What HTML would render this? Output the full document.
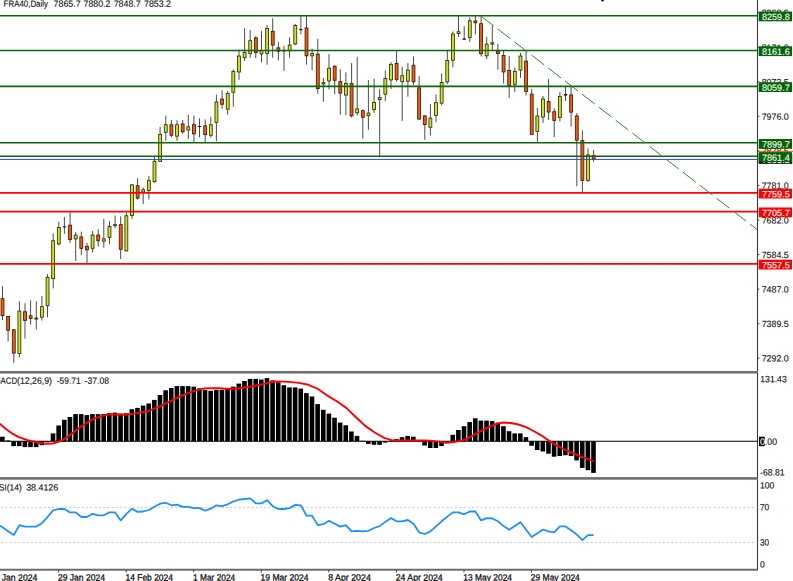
<!DOCTYPE html>
<html><head><meta charset="utf-8"><title>FRA40 Daily</title>
<style>html,body{margin:0;padding:0;background:#fff}svg{display:block}text{font-family:"Liberation Sans",sans-serif;font-size:9.1px;fill:#111;stroke:#111;stroke-width:0.13px}.w{fill:#fff;stroke:#fff;stroke-width:0.12px}.d{stroke-width:0.27px}</style></head><body>
<svg width="793" height="581" viewBox="0 0 793 581">
<rect width="793" height="581" fill="#fff"/>
<path d="M758 12.70h1.4" stroke="#333" stroke-width="0.9"/>
<text transform="matrix(1 0.001 0 1 0 0)" x="761.70" y="15.338" textLength="27" lengthAdjust="spacingAndGlyphs">8268.5</text>
<path d="M758 47.25h1.4" stroke="#333" stroke-width="0.9"/>
<text transform="matrix(1 0.001 0 1 0 0)" x="761.70" y="49.888" textLength="27" lengthAdjust="spacingAndGlyphs">8171.0</text>
<path d="M758 81.80h1.4" stroke="#333" stroke-width="0.9"/>
<text transform="matrix(1 0.001 0 1 0 0)" x="761.70" y="84.438" textLength="27" lengthAdjust="spacingAndGlyphs">8073.5</text>
<path d="M758 116.35h1.4" stroke="#333" stroke-width="0.9"/>
<text transform="matrix(1 0.001 0 1 0 0)" x="761.70" y="118.988" textLength="27" lengthAdjust="spacingAndGlyphs">7976.0</text>
<path d="M758 150.90h1.4" stroke="#333" stroke-width="0.9"/>
<text transform="matrix(1 0.001 0 1 0 0)" x="761.70" y="153.538" textLength="27" lengthAdjust="spacingAndGlyphs">7878.5</text>
<path d="M758 185.45h1.4" stroke="#333" stroke-width="0.9"/>
<text transform="matrix(1 0.001 0 1 0 0)" x="761.70" y="188.088" textLength="27" lengthAdjust="spacingAndGlyphs">7781.0</text>
<path d="M758 220.00h1.4" stroke="#333" stroke-width="0.9"/>
<text transform="matrix(1 0.001 0 1 0 0)" x="761.70" y="222.638" textLength="27" lengthAdjust="spacingAndGlyphs">7682.0</text>
<path d="M758 254.55h1.4" stroke="#333" stroke-width="0.9"/>
<text transform="matrix(1 0.001 0 1 0 0)" x="761.70" y="257.188" textLength="27" lengthAdjust="spacingAndGlyphs">7584.5</text>
<path d="M758 289.10h1.4" stroke="#333" stroke-width="0.9"/>
<text transform="matrix(1 0.001 0 1 0 0)" x="761.70" y="291.738" textLength="27" lengthAdjust="spacingAndGlyphs">7487.0</text>
<path d="M758 323.65h1.4" stroke="#333" stroke-width="0.9"/>
<text transform="matrix(1 0.001 0 1 0 0)" x="761.70" y="326.288" textLength="27" lengthAdjust="spacingAndGlyphs">7389.5</text>
<path d="M758 358.20h1.4" stroke="#333" stroke-width="0.9"/>
<text transform="matrix(1 0.001 0 1 0 0)" x="761.70" y="360.838" textLength="27" lengthAdjust="spacingAndGlyphs">7292.0</text>
<g stroke="#2a2a2a" stroke-width="0.85">
<path d="M2.5 286.1V320.2"/>
<path d="M8.1 315.9V341.4"/>
<path d="M13.8 329.1V362.7"/>
<path d="M19.4 301.3V357.5"/>
<path d="M25.0 303.2V338.6"/>
<path d="M30.6 300.3V324.4"/>
<path d="M36.3 301.3V329.7"/>
<path d="M41.9 296.0V320.6"/>
<path d="M47.5 274.2V317.4"/>
<path d="M53.2 233.4V288.4"/>
<path d="M58.8 221.7V245.4"/>
<path d="M64.4 217.0V233.8"/>
<path d="M70.1 212.6V242.9"/>
<path d="M75.7 232.1V260.9"/>
<path d="M81.3 231.6V255.2"/>
<path d="M87.0 242.9V263.7"/>
<path d="M92.6 231.0V252.4"/>
<path d="M98.2 229.1V246.7"/>
<path d="M103.8 218.9V247.7"/>
<path d="M109.5 221.1V244.2"/>
<path d="M115.1 215.5V228.3"/>
<path d="M120.7 216.4V259.0"/>
<path d="M126.4 212.6V251.4"/>
<path d="M132.0 184.2V218.9"/>
<path d="M137.6 178.1V199.7"/>
<path d="M143.2 187.4V204.1"/>
<path d="M148.9 176.1V199.4"/>
<path d="M154.5 156.3V182.8"/>
<path d="M160.1 126.9V162.0"/>
<path d="M165.8 115.6V140.8"/>
<path d="M171.4 119.9V137.3"/>
<path d="M177.0 120.3V140.8"/>
<path d="M182.7 119.9V133.6"/>
<path d="M188.3 114.6V138.9"/>
<path d="M193.9 115.6V142.1"/>
<path d="M199.5 118.4V137.3"/>
<path d="M205.2 119.4V142.1"/>
<path d="M210.8 116.9V137.7"/>
<path d="M216.4 94.7V141.1"/>
<path d="M222.1 90.2V108.8"/>
<path d="M227.7 91.3V114.6"/>
<path d="M233.3 69.4V106.7"/>
<path d="M239.0 49.5V79.8"/>
<path d="M244.6 28.1V60.9"/>
<path d="M250.2 30.0V57.7"/>
<path d="M255.8 36.2V58.0"/>
<path d="M261.5 31.1V62.4"/>
<path d="M267.1 24.9V64.7"/>
<path d="M272.7 18.3V57.7"/>
<path d="M278.4 41.9V60.3"/>
<path d="M284.0 45.7V70.9"/>
<path d="M289.6 37.2V57.7"/>
<path d="M295.3 23.9V45.2"/>
<path d="M300.9 16.0V34.4"/>
<path d="M306.5 16.0V64.7"/>
<path d="M312.1 48.6V70.3"/>
<path d="M317.8 38.7V93.6"/>
<path d="M323.4 78.0V102.0"/>
<path d="M329.0 54.2V89.4"/>
<path d="M334.7 65.2V94.2"/>
<path d="M340.3 69.1V114.7"/>
<path d="M345.9 72.3V115.2"/>
<path d="M351.6 63.1V117.5"/>
<path d="M357.2 57.0V115.2"/>
<path d="M362.8 109.5V138.7"/>
<path d="M368.4 80.2V129.8"/>
<path d="M374.1 78.7V112.8"/>
<path d="M379.7 89.1V156.3"/>
<path d="M385.3 70.5V101.0"/>
<path d="M391.0 62.2V89.1"/>
<path d="M396.6 50.5V81.5"/>
<path d="M402.2 66.7V120.9"/>
<path d="M407.9 63.1V96.7"/>
<path d="M413.5 56.5V84.9"/>
<path d="M419.1 76.2V119.4"/>
<path d="M424.8 115.2V139.8"/>
<path d="M430.4 104.2V135.5"/>
<path d="M436.0 94.4V122.2"/>
<path d="M441.6 73.3V105.2"/>
<path d="M447.3 50.5V84.0"/>
<path d="M452.9 31.5V67.4"/>
<path d="M458.5 16.0V36.8"/>
<path d="M464.2 26.2V40.0"/>
<path d="M469.8 17.3V41.9"/>
<path d="M475.4 16.0V34.4"/>
<path d="M481.1 16.0V56.5"/>
<path d="M486.7 36.8V59.0"/>
<path d="M492.3 25.5V50.1"/>
<path d="M497.9 43.8V69.8"/>
<path d="M503.6 50.5V83.6"/>
<path d="M509.2 56.1V97.8"/>
<path d="M514.8 67.5V92.1"/>
<path d="M520.5 52.9V77.9"/>
<path d="M526.1 50.1V95.5"/>
<path d="M531.7 89.2V135.2"/>
<path d="M537.4 108.1V141.8"/>
<path d="M543.0 96.0V122.9"/>
<path d="M548.6 79.2V120.0"/>
<path d="M554.2 108.2V137.1"/>
<path d="M559.9 92.1V121.4"/>
<path d="M565.5 86.8V100.9"/>
<path d="M571.1 85.5V126.7"/>
<path d="M576.8 113.2V186.3"/>
<path d="M582.4 130.4V192.4"/>
<path d="M588.0 148.4V182.0"/>
<path d="M593.6 150.0V161.7"/>
</g>
<rect x="1.05" y="298.65" width="2.9" height="17.00" fill="#f85a0c" stroke="#3c1a05" stroke-width="0.85"/>
<rect x="6.68" y="316.55" width="2.9" height="13.70" fill="#f85a0c" stroke="#3c1a05" stroke-width="0.85"/>
<rect x="12.31" y="329.75" width="2.9" height="23.40" fill="#f85a0c" stroke="#3c1a05" stroke-width="0.85"/>
<rect x="17.94" y="311.05" width="2.9" height="42.50" fill="#d0e11e" stroke="#2c3006" stroke-width="0.85"/>
<rect x="23.57" y="311.75" width="2.9" height="8.60" fill="#f85a0c" stroke="#3c1a05" stroke-width="0.85"/>
<rect x="29.20" y="315.75" width="2.9" height="2.70" fill="#f85a0c" stroke="#3c1a05" stroke-width="0.85"/>
<rect x="34.83" y="318.05" width="2.9" height="1.00" fill="#f85a0c" stroke="#3c1a05" stroke-width="0.85"/>
<rect x="40.46" y="306.65" width="2.9" height="10.50" fill="#d0e11e" stroke="#2c3006" stroke-width="0.85"/>
<rect x="46.09" y="277.25" width="2.9" height="28.50" fill="#d0e11e" stroke="#2c3006" stroke-width="0.85"/>
<rect x="51.72" y="240.75" width="2.9" height="37.90" fill="#d0e11e" stroke="#2c3006" stroke-width="0.85"/>
<rect x="57.35" y="227.45" width="2.9" height="16.50" fill="#d0e11e" stroke="#2c3006" stroke-width="0.85"/>
<rect x="62.7" y="226.4" width="3.4" height="1.0" fill="#111"/>
<rect x="68.61" y="225.15" width="2.9" height="14.30" fill="#f85a0c" stroke="#3c1a05" stroke-width="0.85"/>
<rect x="74.24" y="235.05" width="2.9" height="3.80" fill="#d0e11e" stroke="#2c3006" stroke-width="0.85"/>
<rect x="79.87" y="236.95" width="2.9" height="11.40" fill="#f85a0c" stroke="#3c1a05" stroke-width="0.85"/>
<rect x="85.50" y="246.35" width="2.9" height="3.50" fill="#f85a0c" stroke="#3c1a05" stroke-width="0.85"/>
<rect x="91.13" y="235.05" width="2.9" height="13.30" fill="#d0e11e" stroke="#2c3006" stroke-width="0.85"/>
<rect x="96.76" y="235.05" width="2.9" height="5.70" fill="#f85a0c" stroke="#3c1a05" stroke-width="0.85"/>
<rect x="102.39" y="238.85" width="2.9" height="2.30" fill="#d0e11e" stroke="#2c3006" stroke-width="0.85"/>
<rect x="108.02" y="226.45" width="2.9" height="10.90" fill="#d0e11e" stroke="#2c3006" stroke-width="0.85"/>
<rect x="113.65" y="224.65" width="2.9" height="1.00" fill="#d0e11e" stroke="#2c3006" stroke-width="0.85"/>
<rect x="119.28" y="224.65" width="2.9" height="24.60" fill="#f85a0c" stroke="#3c1a05" stroke-width="0.85"/>
<rect x="124.91" y="215.75" width="2.9" height="35.10" fill="#d0e11e" stroke="#2c3006" stroke-width="0.85"/>
<rect x="130.54" y="184.85" width="2.9" height="30.70" fill="#d0e11e" stroke="#2c3006" stroke-width="0.85"/>
<rect x="136.17" y="185.75" width="2.9" height="12.40" fill="#f85a0c" stroke="#3c1a05" stroke-width="0.85"/>
<rect x="141.80" y="189.75" width="2.9" height="2.30" fill="#d0e11e" stroke="#2c3006" stroke-width="0.85"/>
<rect x="147.43" y="180.65" width="2.9" height="9.80" fill="#d0e11e" stroke="#2c3006" stroke-width="0.85"/>
<rect x="153.06" y="161.25" width="2.9" height="20.40" fill="#d0e11e" stroke="#2c3006" stroke-width="0.85"/>
<rect x="158.69" y="134.35" width="2.9" height="27.00" fill="#d0e11e" stroke="#2c3006" stroke-width="0.85"/>
<rect x="164.32" y="124.75" width="2.9" height="7.60" fill="#d0e11e" stroke="#2c3006" stroke-width="0.85"/>
<rect x="169.95" y="124.75" width="2.9" height="10.50" fill="#f85a0c" stroke="#3c1a05" stroke-width="0.85"/>
<rect x="175.58" y="124.75" width="2.9" height="11.40" fill="#d0e11e" stroke="#2c3006" stroke-width="0.85"/>
<rect x="181.21" y="123.95" width="2.9" height="7.80" fill="#f85a0c" stroke="#3c1a05" stroke-width="0.85"/>
<rect x="186.84" y="126.85" width="2.9" height="3.20" fill="#d0e11e" stroke="#2c3006" stroke-width="0.85"/>
<rect x="192.47" y="124.75" width="2.9" height="9.10" fill="#f85a0c" stroke="#3c1a05" stroke-width="0.85"/>
<rect x="197.8" y="126.0" width="3.4" height="1.0" fill="#111"/>
<rect x="203.73" y="125.85" width="2.9" height="8.80" fill="#f85a0c" stroke="#3c1a05" stroke-width="0.85"/>
<rect x="209.36" y="124.75" width="2.9" height="10.50" fill="#d0e11e" stroke="#2c3006" stroke-width="0.85"/>
<rect x="214.99" y="101.95" width="2.9" height="20.40" fill="#d0e11e" stroke="#2c3006" stroke-width="0.85"/>
<rect x="220.62" y="99.05" width="2.9" height="5.20" fill="#f85a0c" stroke="#3c1a05" stroke-width="0.85"/>
<rect x="226.25" y="93.55" width="2.9" height="15.60" fill="#d0e11e" stroke="#2c3006" stroke-width="0.85"/>
<rect x="231.88" y="71.55" width="2.9" height="20.70" fill="#d0e11e" stroke="#2c3006" stroke-width="0.85"/>
<rect x="237.51" y="56.05" width="2.9" height="15.90" fill="#d0e11e" stroke="#2c3006" stroke-width="0.85"/>
<rect x="243.14" y="52.55" width="2.9" height="5.20" fill="#d0e11e" stroke="#2c3006" stroke-width="0.85"/>
<rect x="248.77" y="40.65" width="2.9" height="12.80" fill="#d0e11e" stroke="#2c3006" stroke-width="0.85"/>
<rect x="254.40" y="37.85" width="2.9" height="14.80" fill="#f85a0c" stroke="#3c1a05" stroke-width="0.85"/>
<rect x="260.03" y="50.75" width="2.9" height="3.20" fill="#d0e11e" stroke="#2c3006" stroke-width="0.85"/>
<rect x="265.66" y="28.55" width="2.9" height="24.90" fill="#d0e11e" stroke="#2c3006" stroke-width="0.85"/>
<rect x="271.29" y="31.35" width="2.9" height="13.70" fill="#f85a0c" stroke="#3c1a05" stroke-width="0.85"/>
<rect x="276.92" y="47.85" width="2.9" height="3.30" fill="#f85a0c" stroke="#3c1a05" stroke-width="0.85"/>
<rect x="282.3" y="50.5" width="3.4" height="1.0" fill="#111"/>
<rect x="288.18" y="45.05" width="2.9" height="5.70" fill="#d0e11e" stroke="#2c3006" stroke-width="0.85"/>
<rect x="293.81" y="25.55" width="2.9" height="18.40" fill="#d0e11e" stroke="#2c3006" stroke-width="0.85"/>
<rect x="299.2" y="29.1" width="3.4" height="1.0" fill="#111"/>
<rect x="305.07" y="27.95" width="2.9" height="27.90" fill="#f85a0c" stroke="#3c1a05" stroke-width="0.85"/>
<rect x="310.70" y="53.55" width="2.9" height="2.30" fill="#d0e11e" stroke="#2c3006" stroke-width="0.85"/>
<rect x="316.33" y="54.15" width="2.9" height="34.50" fill="#f85a0c" stroke="#3c1a05" stroke-width="0.85"/>
<rect x="321.96" y="82.65" width="2.9" height="1.30" fill="#d0e11e" stroke="#2c3006" stroke-width="0.85"/>
<rect x="327.59" y="68.15" width="2.9" height="12.80" fill="#d0e11e" stroke="#2c3006" stroke-width="0.85"/>
<rect x="333.22" y="66.25" width="2.9" height="14.00" fill="#f85a0c" stroke="#3c1a05" stroke-width="0.85"/>
<rect x="338.85" y="81.65" width="2.9" height="11.40" fill="#f85a0c" stroke="#3c1a05" stroke-width="0.85"/>
<rect x="344.48" y="83.55" width="2.9" height="11.50" fill="#d0e11e" stroke="#2c3006" stroke-width="0.85"/>
<rect x="350.11" y="83.55" width="2.9" height="32.20" fill="#f85a0c" stroke="#3c1a05" stroke-width="0.85"/>
<rect x="355.74" y="108.85" width="2.9" height="3.90" fill="#d0e11e" stroke="#2c3006" stroke-width="0.85"/>
<rect x="361.37" y="110.65" width="2.9" height="6.60" fill="#f85a0c" stroke="#3c1a05" stroke-width="0.85"/>
<rect x="367.00" y="113.05" width="2.9" height="2.70" fill="#d0e11e" stroke="#2c3006" stroke-width="0.85"/>
<rect x="372.63" y="102.55" width="2.9" height="7.10" fill="#d0e11e" stroke="#2c3006" stroke-width="0.85"/>
<rect x="378.26" y="97.45" width="2.9" height="2.20" fill="#d0e11e" stroke="#2c3006" stroke-width="0.85"/>
<rect x="383.89" y="78.55" width="2.9" height="15.60" fill="#d0e11e" stroke="#2c3006" stroke-width="0.85"/>
<rect x="389.52" y="64.35" width="2.9" height="15.60" fill="#d0e11e" stroke="#2c3006" stroke-width="0.85"/>
<rect x="395.15" y="63.35" width="2.9" height="16.00" fill="#f85a0c" stroke="#3c1a05" stroke-width="0.85"/>
<rect x="400.78" y="75.75" width="2.9" height="5.90" fill="#d0e11e" stroke="#2c3006" stroke-width="0.85"/>
<rect x="406.41" y="70.05" width="2.9" height="11.20" fill="#d0e11e" stroke="#2c3006" stroke-width="0.85"/>
<rect x="412.04" y="65.25" width="2.9" height="16.60" fill="#f85a0c" stroke="#3c1a05" stroke-width="0.85"/>
<rect x="417.67" y="87.85" width="2.9" height="31.30" fill="#f85a0c" stroke="#3c1a05" stroke-width="0.85"/>
<rect x="423.30" y="115.85" width="2.9" height="8.60" fill="#f85a0c" stroke="#3c1a05" stroke-width="0.85"/>
<rect x="428.93" y="118.15" width="2.9" height="9.10" fill="#d0e11e" stroke="#2c3006" stroke-width="0.85"/>
<rect x="434.56" y="102.65" width="2.9" height="12.70" fill="#d0e11e" stroke="#2c3006" stroke-width="0.85"/>
<rect x="440.19" y="82.45" width="2.9" height="20.70" fill="#d0e11e" stroke="#2c3006" stroke-width="0.85"/>
<rect x="445.82" y="60.55" width="2.9" height="21.30" fill="#d0e11e" stroke="#2c3006" stroke-width="0.85"/>
<rect x="451.45" y="34.05" width="2.9" height="26.10" fill="#d0e11e" stroke="#2c3006" stroke-width="0.85"/>
<rect x="457.08" y="31.75" width="2.9" height="1.80" fill="#d0e11e" stroke="#2c3006" stroke-width="0.85"/>
<rect x="462.5" y="38.5" width="3.4" height="1.2" fill="#111"/>
<rect x="468.34" y="20.75" width="2.9" height="16.60" fill="#d0e11e" stroke="#2c3006" stroke-width="0.85"/>
<rect x="473.97" y="20.95" width="2.9" height="1.80" fill="#f85a0c" stroke="#3c1a05" stroke-width="0.85"/>
<rect x="479.60" y="23.65" width="2.9" height="30.00" fill="#f85a0c" stroke="#3c1a05" stroke-width="0.85"/>
<rect x="485.23" y="44.05" width="2.9" height="11.80" fill="#d0e11e" stroke="#2c3006" stroke-width="0.85"/>
<rect x="490.86" y="42.75" width="2.9" height="1.40" fill="#d0e11e" stroke="#2c3006" stroke-width="0.85"/>
<rect x="496.49" y="51.25" width="2.9" height="2.20" fill="#f85a0c" stroke="#3c1a05" stroke-width="0.85"/>
<rect x="502.12" y="55.45" width="2.9" height="16.50" fill="#f85a0c" stroke="#3c1a05" stroke-width="0.85"/>
<rect x="507.75" y="70.55" width="2.9" height="15.30" fill="#f85a0c" stroke="#3c1a05" stroke-width="0.85"/>
<rect x="513.38" y="71.55" width="2.9" height="12.70" fill="#d0e11e" stroke="#2c3006" stroke-width="0.85"/>
<rect x="519.01" y="56.05" width="2.9" height="14.00" fill="#d0e11e" stroke="#2c3006" stroke-width="0.85"/>
<rect x="524.64" y="61.15" width="2.9" height="30.30" fill="#f85a0c" stroke="#3c1a05" stroke-width="0.85"/>
<rect x="530.27" y="94.15" width="2.9" height="40.20" fill="#f85a0c" stroke="#3c1a05" stroke-width="0.85"/>
<rect x="535.90" y="115.95" width="2.9" height="15.60" fill="#d0e11e" stroke="#2c3006" stroke-width="0.85"/>
<rect x="541.53" y="98.95" width="2.9" height="18.00" fill="#d0e11e" stroke="#2c3006" stroke-width="0.85"/>
<rect x="547.16" y="101.35" width="2.9" height="10.70" fill="#f85a0c" stroke="#3c1a05" stroke-width="0.85"/>
<rect x="552.79" y="111.75" width="2.9" height="8.60" fill="#f85a0c" stroke="#3c1a05" stroke-width="0.85"/>
<rect x="558.42" y="96.35" width="2.9" height="21.20" fill="#d0e11e" stroke="#2c3006" stroke-width="0.85"/>
<rect x="563.8" y="94.0" width="3.4" height="1.5" fill="#111"/>
<rect x="569.68" y="94.95" width="2.9" height="17.20" fill="#f85a0c" stroke="#3c1a05" stroke-width="0.85"/>
<rect x="575.31" y="115.95" width="2.9" height="24.20" fill="#f85a0c" stroke="#3c1a05" stroke-width="0.85"/>
<rect x="580.94" y="140.65" width="2.9" height="39.70" fill="#f85a0c" stroke="#3c1a05" stroke-width="0.85"/>
<rect x="586.57" y="154.95" width="2.9" height="25.40" fill="#d0e11e" stroke="#2c3006" stroke-width="0.85"/>
<rect x="592.20" y="155.75" width="2.9" height="3.20" fill="#f85a0c" stroke="#3c1a05" stroke-width="0.85"/>
<path d="M0 15.7H758" stroke="#0a690a" stroke-width="1.6"/>
<path d="M0 50.5H758" stroke="#0a690a" stroke-width="1.6"/>
<path d="M0 86.4H758" stroke="#0a690a" stroke-width="1.6"/>
<path d="M0 142.8H758" stroke="#0a690a" stroke-width="1.6"/>
<path d="M0 156.3H758" stroke="#0a690a" stroke-width="1.6"/>
<path d="M0 159.4H758" stroke="#3e3ebc" stroke-width="1.0"/>
<path d="M0 192.9H758" stroke="#ff0000" stroke-width="1.8"/>
<path d="M0 211.7H758" stroke="#ff0000" stroke-width="1.8"/>
<path d="M0 263.9H758" stroke="#ff0000" stroke-width="1.8"/>
<path d="M481 16L757 229.5" stroke="#2f8a2f" stroke-width="1.0" stroke-dasharray="16 5.28" fill="none"/>
<path d="M600.8 0h3.6l-1.8 2z" fill="#000080"/>
<path d="M757.5 0V570" stroke="#3a3a3a" stroke-width="1.1"/>
<rect x="758.7" y="154.2" width="33.5" height="9.6" fill="#000"/>
<text class="w" transform="matrix(1 0.001 0 1 0 0)" x="762.00" y="162.238" textLength="27.7" lengthAdjust="spacingAndGlyphs">7853.2</text>
<path d="M758 151.3H793" stroke="#ff4500" stroke-width="1"/>
<rect x="758.7" y="11.5" width="33.3" height="9.8" fill="#006400"/>
<text class="w" transform="matrix(1 0.001 0 1 0 0)" x="762.00" y="19.288" textLength="27.7" lengthAdjust="spacingAndGlyphs">8259.8</text>
<rect x="758.7" y="46.3" width="33.3" height="9.8" fill="#006400"/>
<text class="w" transform="matrix(1 0.001 0 1 0 0)" x="762.00" y="54.088" textLength="27.7" lengthAdjust="spacingAndGlyphs">8161.6</text>
<rect x="758.7" y="82.2" width="33.3" height="9.8" fill="#006400"/>
<text class="w" transform="matrix(1 0.001 0 1 0 0)" x="762.00" y="89.988" textLength="27.7" lengthAdjust="spacingAndGlyphs">8059.7</text>
<rect x="758.7" y="139.0" width="33.3" height="9.8" fill="#006400"/>
<text class="w" transform="matrix(1 0.001 0 1 0 0)" x="762.00" y="146.738" textLength="27.7" lengthAdjust="spacingAndGlyphs">7899.7</text>
<rect x="758.7" y="152.1" width="33.3" height="9.8" fill="#006400"/>
<text class="w" transform="matrix(1 0.001 0 1 0 0)" x="762.00" y="159.888" textLength="27.7" lengthAdjust="spacingAndGlyphs">7861.4</text>
<rect x="758.7" y="188.7" width="33.3" height="9.8" fill="#ff0000"/>
<text class="w" transform="matrix(1 0.001 0 1 0 0)" x="762.00" y="196.488" textLength="27.7" lengthAdjust="spacingAndGlyphs">7759.5</text>
<rect x="758.7" y="207.5" width="33.3" height="9.8" fill="#ff0000"/>
<text class="w" transform="matrix(1 0.001 0 1 0 0)" x="762.00" y="215.288" textLength="27.7" lengthAdjust="spacingAndGlyphs">7705.7</text>
<rect x="758.7" y="259.7" width="33.3" height="9.8" fill="#ff0000"/>
<text class="w" transform="matrix(1 0.001 0 1 0 0)" x="762.00" y="267.488" textLength="27.7" lengthAdjust="spacingAndGlyphs">7557.5</text>
<text transform="matrix(1 0.001 0 1 0 0)" x="3.60" y="6.796" textLength="44.4" lengthAdjust="spacingAndGlyphs">FRA40,Daily</text>
<text transform="matrix(1 0.001 0 1 0 0)" x="53.60" y="6.746" textLength="27.0" lengthAdjust="spacingAndGlyphs">7865.7</text>
<text transform="matrix(1 0.001 0 1 0 0)" x="83.50" y="6.716" textLength="27.0" lengthAdjust="spacingAndGlyphs">7880.2</text>
<text transform="matrix(1 0.001 0 1 0 0)" x="113.70" y="6.686" textLength="27.0" lengthAdjust="spacingAndGlyphs">7848.7</text>
<text transform="matrix(1 0.001 0 1 0 0)" x="144.00" y="6.656" textLength="27.0" lengthAdjust="spacingAndGlyphs">7853.2</text>
<rect x="0" y="371.05" width="758" height="2.5" fill="#6e6e6e"/>
<rect x="0" y="477.1" width="758" height="2.6" fill="#6e6e6e"/>
<rect x="0" y="568.75" width="758" height="1.95" fill="#6a6a6a"/>
<rect x="0.05" y="436.7" width="4.6" height="4.6" fill="#000"/>
<rect x="5.68" y="440.4" width="4.6" height="0.9" fill="#000"/>
<rect x="11.31" y="441.3" width="4.6" height="4.8" fill="#000"/>
<rect x="16.94" y="441.3" width="4.6" height="4.8" fill="#000"/>
<rect x="22.57" y="441.3" width="4.6" height="5.8" fill="#000"/>
<rect x="28.20" y="441.3" width="4.6" height="5.8" fill="#000"/>
<rect x="33.83" y="441.3" width="4.6" height="5.8" fill="#000"/>
<rect x="39.46" y="441.3" width="4.6" height="3.9" fill="#000"/>
<rect x="45.09" y="441.3" width="4.6" height="1.0" fill="#000"/>
<rect x="50.72" y="433.4" width="4.6" height="7.9" fill="#000"/>
<rect x="56.35" y="425.5" width="4.6" height="15.8" fill="#000"/>
<rect x="61.98" y="419.8" width="4.6" height="21.5" fill="#000"/>
<rect x="67.61" y="417.0" width="4.6" height="24.3" fill="#000"/>
<rect x="73.24" y="414.1" width="4.6" height="27.2" fill="#000"/>
<rect x="78.87" y="414.1" width="4.6" height="27.2" fill="#000"/>
<rect x="84.50" y="415.1" width="4.6" height="26.2" fill="#000"/>
<rect x="90.13" y="414.1" width="4.6" height="27.2" fill="#000"/>
<rect x="95.76" y="414.1" width="4.6" height="27.2" fill="#000"/>
<rect x="101.39" y="414.1" width="4.6" height="27.2" fill="#000"/>
<rect x="107.02" y="413.2" width="4.6" height="28.1" fill="#000"/>
<rect x="112.65" y="412.6" width="4.6" height="28.7" fill="#000"/>
<rect x="118.28" y="413.6" width="4.6" height="27.7" fill="#000"/>
<rect x="123.91" y="413.2" width="4.6" height="28.1" fill="#000"/>
<rect x="129.54" y="409.2" width="4.6" height="32.1" fill="#000"/>
<rect x="135.17" y="407.9" width="4.6" height="33.4" fill="#000"/>
<rect x="140.80" y="405.6" width="4.6" height="35.7" fill="#000"/>
<rect x="146.43" y="403.5" width="4.6" height="37.8" fill="#000"/>
<rect x="152.06" y="399.9" width="4.6" height="41.4" fill="#000"/>
<rect x="157.69" y="395.0" width="4.6" height="46.3" fill="#000"/>
<rect x="163.32" y="390.3" width="4.6" height="51.0" fill="#000"/>
<rect x="168.95" y="388.0" width="4.6" height="53.3" fill="#000"/>
<rect x="174.58" y="386.1" width="4.6" height="55.2" fill="#000"/>
<rect x="180.21" y="386.1" width="4.6" height="55.2" fill="#000"/>
<rect x="185.84" y="386.1" width="4.6" height="55.2" fill="#000"/>
<rect x="191.47" y="386.7" width="4.6" height="54.6" fill="#000"/>
<rect x="197.10" y="388.4" width="4.6" height="52.9" fill="#000"/>
<rect x="202.73" y="389.9" width="4.6" height="51.4" fill="#000"/>
<rect x="208.36" y="390.8" width="4.6" height="50.5" fill="#000"/>
<rect x="213.99" y="389.9" width="4.6" height="51.4" fill="#000"/>
<rect x="219.62" y="389.9" width="4.6" height="51.4" fill="#000"/>
<rect x="225.25" y="388.9" width="4.6" height="52.4" fill="#000"/>
<rect x="230.88" y="386.7" width="4.6" height="54.6" fill="#000"/>
<rect x="236.51" y="383.6" width="4.6" height="57.7" fill="#000"/>
<rect x="242.14" y="381.0" width="4.6" height="60.3" fill="#000"/>
<rect x="247.77" y="378.9" width="4.6" height="62.4" fill="#000"/>
<rect x="253.40" y="378.9" width="4.6" height="62.4" fill="#000"/>
<rect x="259.03" y="379.5" width="4.6" height="61.8" fill="#000"/>
<rect x="264.66" y="378.1" width="4.6" height="63.2" fill="#000"/>
<rect x="270.29" y="380.4" width="4.6" height="60.9" fill="#000"/>
<rect x="275.92" y="382.3" width="4.6" height="59.0" fill="#000"/>
<rect x="281.55" y="385.2" width="4.6" height="56.1" fill="#000"/>
<rect x="287.18" y="387.4" width="4.6" height="53.9" fill="#000"/>
<rect x="292.81" y="387.4" width="4.6" height="53.9" fill="#000"/>
<rect x="298.44" y="388.6" width="4.6" height="52.7" fill="#000"/>
<rect x="304.07" y="393.1" width="4.6" height="48.2" fill="#000"/>
<rect x="309.70" y="396.5" width="4.6" height="44.8" fill="#000"/>
<rect x="315.33" y="404.1" width="4.6" height="37.2" fill="#000"/>
<rect x="320.96" y="409.8" width="4.6" height="31.5" fill="#000"/>
<rect x="326.59" y="413.6" width="4.6" height="27.7" fill="#000"/>
<rect x="332.22" y="417.7" width="4.6" height="23.6" fill="#000"/>
<rect x="337.85" y="422.6" width="4.6" height="18.7" fill="#000"/>
<rect x="343.48" y="425.3" width="4.6" height="16.0" fill="#000"/>
<rect x="349.11" y="431.5" width="4.6" height="9.8" fill="#000"/>
<rect x="354.74" y="435.9" width="4.6" height="5.4" fill="#000"/>
<rect x="360.37" y="440.8" width="4.6" height="0.5" fill="#000"/>
<rect x="366.00" y="441.3" width="4.6" height="2.6" fill="#000"/>
<rect x="371.63" y="441.3" width="4.6" height="3.5" fill="#000"/>
<rect x="377.26" y="441.3" width="4.6" height="3.5" fill="#000"/>
<rect x="382.89" y="441.3" width="4.6" height="1.3" fill="#000"/>
<rect x="388.52" y="440.7" width="4.6" height="0.6" fill="#000"/>
<rect x="394.15" y="439.1" width="4.6" height="2.2" fill="#000"/>
<rect x="399.78" y="437.2" width="4.6" height="4.1" fill="#000"/>
<rect x="405.41" y="435.9" width="4.6" height="5.4" fill="#000"/>
<rect x="411.04" y="436.7" width="4.6" height="4.6" fill="#000"/>
<rect x="416.67" y="440.6" width="4.6" height="0.7" fill="#000"/>
<rect x="422.30" y="441.3" width="4.6" height="4.2" fill="#000"/>
<rect x="427.93" y="441.3" width="4.6" height="6.7" fill="#000"/>
<rect x="433.56" y="441.3" width="4.6" height="6.7" fill="#000"/>
<rect x="439.19" y="441.3" width="4.6" height="4.8" fill="#000"/>
<rect x="444.82" y="441.0" width="4.6" height="0.3" fill="#000"/>
<rect x="450.45" y="434.8" width="4.6" height="6.5" fill="#000"/>
<rect x="456.08" y="430.0" width="4.6" height="11.3" fill="#000"/>
<rect x="461.71" y="426.2" width="4.6" height="15.1" fill="#000"/>
<rect x="467.34" y="422.1" width="4.6" height="19.2" fill="#000"/>
<rect x="472.97" y="418.3" width="4.6" height="23.0" fill="#000"/>
<rect x="478.60" y="420.6" width="4.6" height="20.7" fill="#000"/>
<rect x="484.23" y="420.6" width="4.6" height="20.7" fill="#000"/>
<rect x="489.86" y="421.1" width="4.6" height="20.2" fill="#000"/>
<rect x="495.49" y="422.6" width="4.6" height="18.7" fill="#000"/>
<rect x="501.12" y="426.2" width="4.6" height="15.1" fill="#000"/>
<rect x="506.75" y="431.2" width="4.6" height="10.1" fill="#000"/>
<rect x="512.38" y="433.4" width="4.6" height="7.9" fill="#000"/>
<rect x="518.01" y="433.4" width="4.6" height="7.9" fill="#000"/>
<rect x="523.64" y="437.2" width="4.6" height="4.1" fill="#000"/>
<rect x="529.27" y="441.3" width="4.6" height="4.5" fill="#000"/>
<rect x="534.90" y="441.3" width="4.6" height="8.7" fill="#000"/>
<rect x="540.53" y="441.3" width="4.6" height="10.2" fill="#000"/>
<rect x="546.16" y="441.3" width="4.6" height="12.4" fill="#000"/>
<rect x="551.79" y="441.3" width="4.6" height="15.4" fill="#000"/>
<rect x="557.42" y="441.3" width="4.6" height="14.7" fill="#000"/>
<rect x="563.05" y="441.3" width="4.6" height="13.9" fill="#000"/>
<rect x="568.68" y="441.3" width="4.6" height="14.7" fill="#000"/>
<rect x="574.31" y="441.3" width="4.6" height="19.1" fill="#000"/>
<rect x="579.94" y="441.3" width="4.6" height="26.6" fill="#000"/>
<rect x="585.57" y="441.3" width="4.6" height="28.9" fill="#000"/>
<rect x="591.20" y="441.3" width="4.6" height="31.6" fill="#000"/>
<path d="M0 441.3H758" stroke="#000" stroke-width="1.1"/>
<polyline points="-1.0,423.3 0.0,424.0 5.7,428.7 11.4,433.1 18.9,437.2 28.4,440.5 36.0,442.0 45.5,443.9 53.0,443.5 58.7,441.6 64.4,439.1 72.0,433.4 79.5,427.8 87.1,422.5 94.7,418.3 102.3,415.8 109.8,414.5 117.4,414.5 125.0,414.7 132.6,413.9 140.2,412.6 145.7,411.7 151.4,409.8 158.9,406.9 166.5,403.1 174.1,399.4 181.7,395.6 189.2,392.7 196.8,390.3 204.4,388.4 212.0,388.2 219.5,388.2 225.2,388.7 232.8,388.7 240.4,388.0 248.0,387.0 255.5,385.5 263.1,384.2 270.7,382.3 276.4,381.5 283.9,381.6 289.5,381.9 298.9,382.9 308.4,384.8 317.9,388.9 327.3,395.6 336.8,401.2 346.3,407.9 355.7,417.0 365.2,425.9 374.7,432.5 384.2,437.8 391.7,440.1 401.2,440.5 412.6,440.5 423.9,440.5 430.0,440.6 438.9,441.6 446.5,442.9 454.1,442.0 461.7,440.6 467.3,438.6 474.9,434.4 482.5,430.2 490.1,426.4 497.7,423.6 503.3,422.5 510.9,423.0 518.5,424.5 526.1,427.2 533.6,431.0 541.2,435.3 548.8,440.6 556.4,445.4 563.9,449.2 570.0,451.9 581.6,456.9 593.9,461.1" fill="none" stroke="#ff0000" stroke-width="1.9" stroke-linejoin="round"/>
<text transform="matrix(1 0.001 0 1 0 0)" x="-5.90" y="383.806" textLength="22.9" lengthAdjust="spacingAndGlyphs">MACD</text>
<text transform="matrix(1 0.001 0 1 0 0)" x="17.00" y="383.783" textLength="35.0" lengthAdjust="spacingAndGlyphs">(12,26,9)</text>
<text transform="matrix(1 0.001 0 1 0 0)" x="56.80" y="383.743" textLength="23.8" lengthAdjust="spacingAndGlyphs">-59.71</text>
<text transform="matrix(1 0.001 0 1 0 0)" x="84.60" y="383.715" textLength="24.4" lengthAdjust="spacingAndGlyphs">-37.08</text>
<text transform="matrix(1 0.001 0 1 0 0)" x="760.30" y="381.540" textLength="26.4" lengthAdjust="spacingAndGlyphs">131.43</text>
<rect x="759.0" y="436.7" width="5.8" height="9.5" fill="#000"/>
<text class="w" transform="matrix(1 0.001 0 1 0 0)" x="759.90" y="443.940">0</text>
<text transform="matrix(1 0.001 0 1 0 0)" x="764.90" y="443.935" textLength="12.2" lengthAdjust="spacingAndGlyphs">.00</text>
<text transform="matrix(1 0.001 0 1 0 0)" x="760.10" y="474.640" textLength="24.6" lengthAdjust="spacingAndGlyphs">-68.81</text>
<path d="M1.36 507.4H757.6" stroke="#b8b8b8" stroke-width="0.8" stroke-dasharray="1.9 2.34"/>
<path d="M1.36 542.45H757.6" stroke="#b8b8b8" stroke-width="0.8" stroke-dasharray="1.9 2.34"/>
<polyline points="0,525.7 2.5,527.2 8.1,531.2 13.8,535.1 19.4,525.1 25.0,526.6 30.6,526.6 36.3,526.6 41.9,523.2 47.5,517.0 53.2,510.4 58.8,509.0 64.4,509.0 70.1,512.4 75.7,512.4 81.3,517.0 87.0,517.0 92.6,513.8 98.2,515.3 103.8,515.3 109.5,512.4 115.1,512.4 120.7,520.4 126.4,513.8 132.0,508.7 137.6,511.9 143.2,511.5 148.9,510.0 154.5,506.8 160.1,503.7 165.8,502.8 171.4,505.3 177.0,504.7 182.7,506.8 188.3,506.8 193.9,508.1 199.5,508.1 205.2,510.6 210.8,508.7 216.4,505.3 222.1,506.2 227.7,504.3 233.3,501.5 239.0,499.6 244.6,499.0 250.2,498.3 255.8,503.4 261.5,503.4 267.1,500.2 272.7,506.2 278.4,509.0 284.0,509.0 289.6,508.1 295.3,504.9 300.9,505.3 306.5,515.7 312.1,515.7 317.8,525.1 323.4,524.2 329.0,520.8 334.7,523.8 340.3,526.6 345.9,525.1 351.6,531.4 357.2,530.8 362.8,531.4 368.4,530.8 374.1,528.0 379.7,526.1 385.3,521.9 391.0,518.1 396.6,521.3 402.2,521.3 407.9,520.0 413.5,523.8 419.1,532.3 424.8,534.0 430.4,531.4 436.0,526.4 441.6,521.3 447.3,516.6 452.9,512.4 458.5,512.4 464.2,514.3 469.8,511.5 475.4,511.5 481.1,520.4 486.7,518.1 492.3,518.5 497.9,521.3 503.6,526.1 509.2,529.8 514.8,526.1 520.5,522.3 526.1,529.8 531.7,537.0 537.4,533.2 543.0,529.5 548.6,531.4 554.2,532.3 559.9,526.4 565.5,526.4 571.1,530.2 576.8,534.6 582.4,540.2 588.0,535.1 593.6,535.1" fill="none" stroke="#1e90ff" stroke-width="1.8" stroke-linejoin="round"/>
<text transform="matrix(1 0.001 0 1 0 0)" x="-7.40" y="490.507" textLength="14" lengthAdjust="spacingAndGlyphs">RSI</text>
<text transform="matrix(1 0.001 0 1 0 0)" x="6.80" y="490.493" textLength="15" lengthAdjust="spacingAndGlyphs">(14)</text>
<text transform="matrix(1 0.001 0 1 0 0)" x="26.20" y="490.474" textLength="32" lengthAdjust="spacingAndGlyphs">38.4126</text>
<text transform="matrix(1 0.001 0 1 0 0)" x="760.00" y="487.640" textLength="14.3" lengthAdjust="spacingAndGlyphs">100</text>
<text transform="matrix(1 0.001 0 1 0 0)" x="760.00" y="509.440" textLength="9.2" lengthAdjust="spacingAndGlyphs">70</text>
<text transform="matrix(1 0.001 0 1 0 0)" x="760.00" y="544.740" textLength="9.2" lengthAdjust="spacingAndGlyphs">30</text>
<text transform="matrix(1 0.001 0 1 0 0)" x="760.00" y="566.740" textLength="4.8" lengthAdjust="spacingAndGlyphs">0</text>
<path d="M-9.0 570v2.5" stroke="#333" stroke-width="0.9"/>
<text class="d" transform="matrix(1 0.001 0 1 0 0)" x="-9.66" y="580.610" textLength="47" lengthAdjust="spacingAndGlyphs">11 Jan 2024</text>
<path d="M58.6 570v2.5" stroke="#333" stroke-width="0.9"/>
<text class="d" transform="matrix(1 0.001 0 1 0 0)" x="57.90" y="580.542" textLength="47" lengthAdjust="spacingAndGlyphs">29 Jan 2024</text>
<path d="M126.2 570v2.5" stroke="#333" stroke-width="0.9"/>
<text class="d" transform="matrix(1 0.001 0 1 0 0)" x="125.46" y="580.475" textLength="47.5" lengthAdjust="spacingAndGlyphs">14 Feb 2024</text>
<path d="M193.7 570v2.5" stroke="#333" stroke-width="0.9"/>
<text class="d" transform="matrix(1 0.001 0 1 0 0)" x="193.02" y="580.407" textLength="42.2" lengthAdjust="spacingAndGlyphs">1 Mar 2024</text>
<path d="M261.3 570v2.5" stroke="#333" stroke-width="0.9"/>
<text class="d" transform="matrix(1 0.001 0 1 0 0)" x="260.58" y="580.339" textLength="48" lengthAdjust="spacingAndGlyphs">19 Mar 2024</text>
<path d="M328.8 570v2.5" stroke="#333" stroke-width="0.9"/>
<text class="d" transform="matrix(1 0.001 0 1 0 0)" x="328.14" y="580.272" textLength="42.7" lengthAdjust="spacingAndGlyphs">8 Apr 2024</text>
<path d="M396.4 570v2.5" stroke="#333" stroke-width="0.9"/>
<text class="d" transform="matrix(1 0.001 0 1 0 0)" x="395.70" y="580.204" textLength="47" lengthAdjust="spacingAndGlyphs">24 Apr 2024</text>
<path d="M464.0 570v2.5" stroke="#333" stroke-width="0.9"/>
<text class="d" transform="matrix(1 0.001 0 1 0 0)" x="463.26" y="580.137" textLength="48.8" lengthAdjust="spacingAndGlyphs">13 May 2024</text>
<path d="M531.5 570v2.5" stroke="#333" stroke-width="0.9"/>
<text class="d" transform="matrix(1 0.001 0 1 0 0)" x="530.82" y="580.069" textLength="49" lengthAdjust="spacingAndGlyphs">29 May 2024</text>
</svg></body></html>
